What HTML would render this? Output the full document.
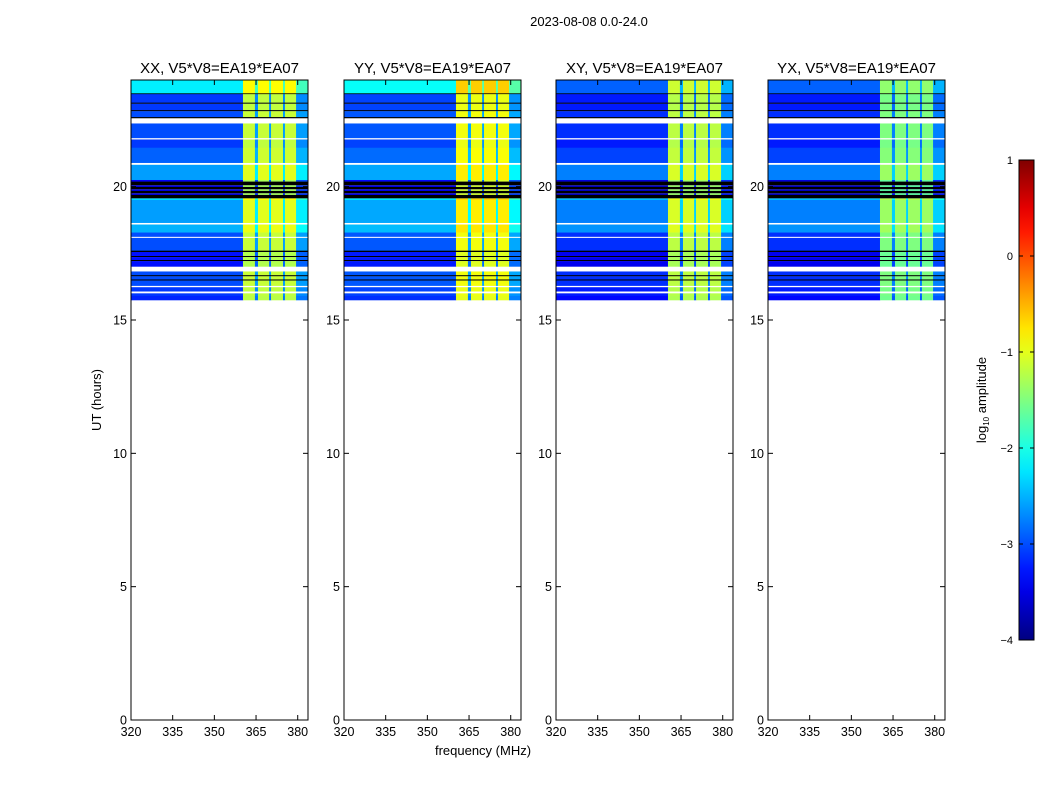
<!DOCTYPE html>
<html><head><meta charset="utf-8"><style>
body{margin:0;background:#fff;}
svg{display:block;font-family:"Liberation Sans",sans-serif;}
</style></head><body>
<svg id="fig" width="1050" height="800" viewBox="0 0 1050 800"></svg>
<script>
// ---- data ----
const panelTitles = ["XX, V5*V8=EA19*EA07","YY, V5*V8=EA19*EA07","XY, V5*V8=EA19*EA07","YX, V5*V8=EA19*EA07"];
const panelLeft = [131,344,556,768];
const xTicks = [320,335,350,365,380];
const yTicks = [0,5,10,15,20];
const cbTicks = [1,0,-1,-2,-3,-4];
const freqEdges = [320,360.3,364.6,365.7,369.7,370.4,374.7,375.4,379.4,383.7];
const freqIsBand = [0,1,0,1,0,1,0,1,0];
const rowStart = [23.50,23.47,23.15,23.11,22.87,22.83,22.61,22.57,22.40,21.83,21.77,21.46,20.90,20.82,20.25,20.19,20.05,19.99,19.90,19.84,19.75,19.69,19.56,19.50,18.65,18.58,18.28,18.13,18.08,18.00,17.60,17.55,17.40,17.36,17.25,17.21,17.10,17.01,16.82,16.68,16.64,16.52,16.48,16.32,16.29,16.23,16.08,16.00,15.90,15.75];
const rowEnd   = [24.00,23.50,23.47,23.15,23.11,22.87,22.83,22.61,22.57,22.37,21.83,21.77,21.46,20.90,20.82,20.25,20.19,20.05,19.99,19.90,19.84,19.75,19.69,19.56,19.50,18.65,18.58,18.28,18.13,18.08,18.00,17.60,17.55,17.40,17.36,17.25,17.21,17.10,17.01,16.82,16.68,16.64,16.52,16.48,16.32,16.29,16.23,16.08,16.00,15.90];
const rowLevel = [-2.2,"k",-3.1,"k",-3.1,"k",-3.0,"k",null,-3.0,null,-3.1,-2.9,null,-2.6,-3.4,"k",-3.5,"k",-3.5,"k",-3.5,"k",-2.3,-2.6,null,-2.5,-3.0,null,-3.0,-3.0,"k",-3.3,"k",-3.3,"k",-3.3,-3.3,null,-3.0,"k",-3.0,"k",-3.0,-3.0,null,-3.1,null,-3.1,-3.2];
const panelBaseShift = [0,0.05,-0.15,-0.15];
const panelBandLevel = [-1.15,-0.95,-1.15,-1.45];
const panelTopLevel = [-2.2,-2.1,-2.9,-2.9];

// ---- helpers ----
const NS="http://www.w3.org/2000/svg";
const svg=document.getElementById('fig');
function mk(tag,attrs,parent){const e=document.createElementNS(NS,tag);for(const k in attrs)e.setAttribute(k,attrs[k]);(parent||svg).appendChild(e);return e;}
const PW=177, PT=80, PB=720;
const fMin=320, fMax=383.7;
const xScale=(left,f)=>left+(f-fMin)/(fMax-fMin)*PW;
const yScale=h=>PB-(h/24)*(PB-PT);
function jet(v){
  const r=Math.min(Math.max(Math.min(4*v-1.5,-4*v+4.5),0),1);
  const g=Math.min(Math.max(Math.min(4*v-0.5,-4*v+3.5),0),1);
  const b=Math.min(Math.max(Math.min(4*v+0.5,-4*v+2.5),0),1);
  return `rgb(${Math.round(r*255)},${Math.round(g*255)},${Math.round(b*255)})`;
}
const lvColor=l=>jet(Math.min(Math.max((l+4)/5,0),1));

let t=mk('text',{x:589,y:26,'font-size':13,'text-anchor':'middle'});


t.textContent="2023-08-08 0.0-24.0";

panelLeft.forEach((L,p)=>{
  const g=mk('g',{});
  
  
  rowStart.forEach((s,i)=>{
    const lv=rowLevel[i];
    if(lv===null) return;
    const y0=yScale(rowEnd[i]), y1=yScale(s);
    if(lv==="k"){
      const r=mk('rect',{x:L,y:y0,width:PW,height:Math.max(y1-y0,1.2),fill:'#000'},g);
      
      
      return;
    }
    const base=(i===0?panelTopLevel[p]:lv+panelBaseShift[p]);
    for(let j=0;j<freqIsBand.length;j++){
      let l;
      if(freqIsBand[j]) l=panelBandLevel[p]+0.35*(base+3);
      else if(j===0) l=base;
      else l=base+0.4;
      const x0=xScale(L,freqEdges[j]), x1=xScale(L,freqEdges[j+1]);
      const r=mk('rect',{x:x0,y:y0,width:x1-x0+0.3,height:y1-y0+0.3,fill:lvColor(l)},g);
      
      
    }
  });
  const fr=mk('rect',{x:L,y:PT,width:PW,height:PB-PT,fill:'none',stroke:'#000','stroke-width':1},g);
  
  
  const tt=mk('text',{x:L+PW/2,y:73,'font-size':15,'text-anchor':'middle'},g);
  
  
  tt.textContent=panelTitles[p];
  xTicks.forEach(v=>{
    const x=xScale(L,v);
    mk('line',{x1:x,x2:x,y1:PB,y2:PB-5,stroke:'#000'},g);
    mk('line',{x1:x,x2:x,y1:PT,y2:PT+5,stroke:'#000'},g);
    const tl=mk('text',{x:x,y:PB+16,'font-size':12.5,'text-anchor':'middle'},g);
    
    
    tl.textContent=v;
  });
  yTicks.forEach(v=>{
    const y=yScale(v);
    mk('line',{x1:L,x2:L+5,y1:y,y2:y,stroke:'#000'},g);
    mk('line',{x1:L+PW,x2:L+PW-5,y1:y,y2:y,stroke:'#000'},g);
    const tl=mk('text',{x:L-4,y:y+4.5,'font-size':12.5,'text-anchor':'end'},g);
    
    
    tl.textContent=v;
  });
});

let yl=mk('text',{x:0,y:0,'font-size':13,'text-anchor':'middle',transform:'translate(101,400) rotate(-90)'});


yl.textContent="UT (hours)";
let xl=mk('text',{x:483,y:755,'font-size':13,'text-anchor':'middle'});


xl.textContent="frequency (MHz)";

const cbX=1019, cbW=15, cbT=160, cbB=640;
const cb=mk('g',{});


const defs=mk('defs',{},cb);
const grad=mk('linearGradient',{id:'jetg',x1:0,y1:1,x2:0,y2:0},defs);
for(let i=0;i<=20;i++){mk('stop',{offset:i/20,'stop-color':jet(i/20)},grad);}
mk('rect',{x:cbX,y:cbT,width:cbW,height:cbB-cbT,fill:'url(#jetg)',stroke:'#000'},cb);
const cbY=v=>cbB-(v+4)/5*(cbB-cbT);
cbTicks.forEach(v=>{
  const y=cbY(v);
  mk('line',{x1:cbX,x2:cbX+4,y1:y,y2:y,stroke:'#000'},cb);
  mk('line',{x1:cbX+cbW,x2:cbX+cbW-4,y1:y,y2:y,stroke:'#000'},cb);
  const tl=mk('text',{x:cbX-6,y:y+4,'font-size':11,'text-anchor':'end'},cb);
  
  
  tl.textContent=(v<0?'\u2212'+(-v):v);
});
const cl=mk('text',{x:0,y:0,'font-size':13,'text-anchor':'middle',transform:'translate(986,400) rotate(-90)'},cb);


cl.innerHTML='log<tspan font-size="8" dy="3">10</tspan><tspan dy="-3"> amplitude</tspan>';
</script>
</body></html>
